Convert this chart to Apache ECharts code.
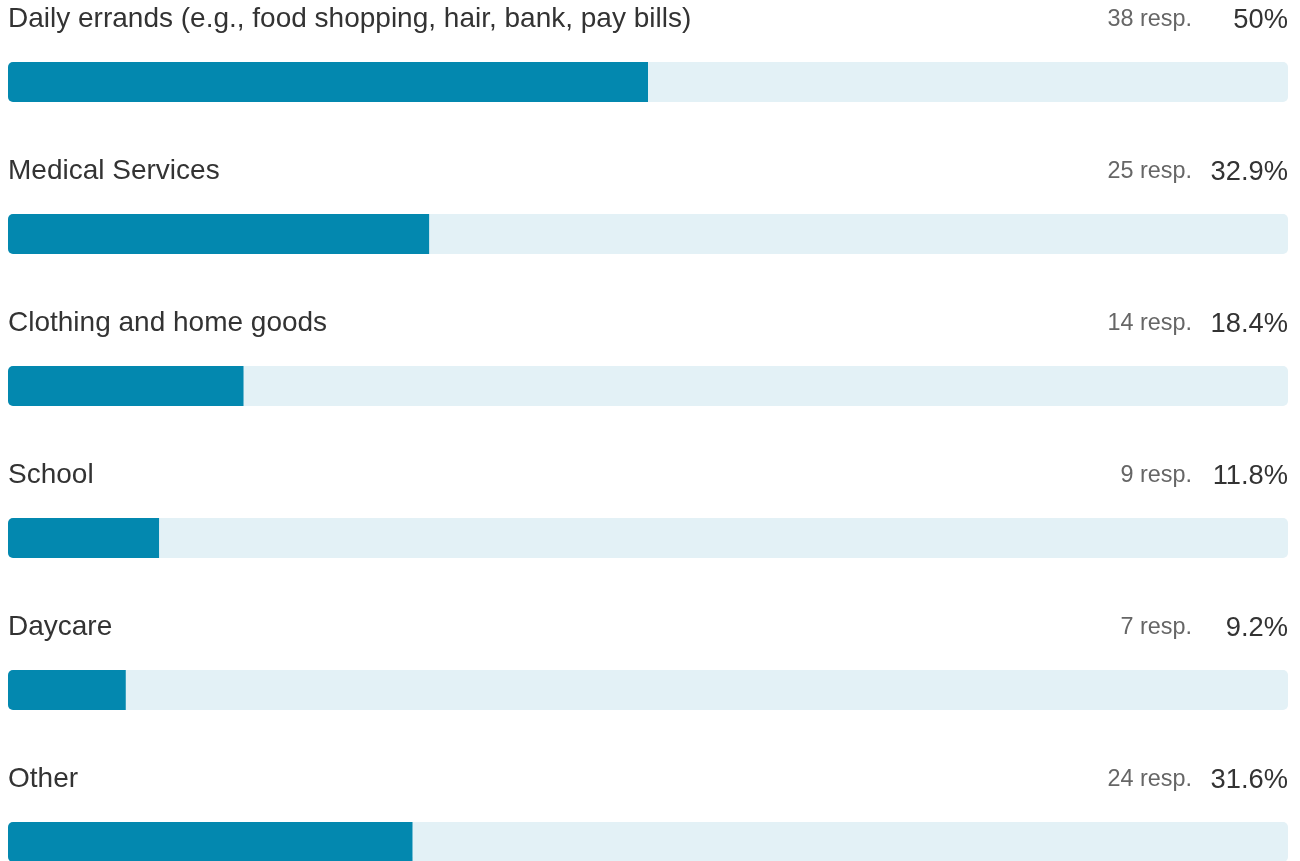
<!DOCTYPE html>
<html>
<head>
<meta charset="utf-8">
<script src="https://cdn.jsdelivr.net/npm/echarts@6/dist/echarts.min.js"></script>
<style>
  html, body { margin: 0; padding: 0; background: #fff; overflow: hidden; }
  /* taller than the window so the last bar sits where the reference cuts it */
  #chart { width: 1300px; height: 924px; }
</style>
</head>
<body>
<div id="chart"></div>
<script>
var categories = [
  'Daily errands (e.g., food shopping, hair, bank, pay bills)',
  'Medical Services',
  'Clothing and home goods',
  'School',
  'Daycare',
  'Other'
]
var responses = [38, 25, 14, 9, 7, 24]
var percents = [50, 32.9, 18.4, 11.8, 9.2, 31.6]
var trackValues = [100, 100, 100, 100, 100, 100]

var chart = echarts.init(document.getElementById('chart'))

chart.setOption({
  animation: false,
  textStyle: { fontFamily: 'Liberation Sans, Arial, sans-serif' },
  grid: { left: 8, right: 12, top: 6, bottom: 6 },
  xAxis: { type: 'value', min: 0, max: 100, show: false },
  yAxis: {
    type: 'category',
    data: categories,
    inverse: true,
    show: false
  },
  series: [
    {
      // light track behind, carries the right-hand texts
      type: 'bar',
      data: trackValues,
      barWidth: 40,
      barGap: '-100%',
      silent: true,
      z: 1,
      itemStyle: { color: '#e3f1f6', borderRadius: 5 },
      label: {
        show: true,
        position: ['100%', -42],
        align: 'right',
        verticalAlign: 'middle',
        formatter: function (p) {
          return '{r|' + responses[p.dataIndex] + ' resp.}{p|' + percents[p.dataIndex] + '%}'
        },
        rich: {
          r: { fontSize: 23.4, color: '#666666', fontFamily: 'Liberation Sans' },
          p: { fontSize: 27.3, color: '#333333', width: 96, align: 'right', fontFamily: 'Liberation Sans' }
        }
      }
    },
    {
      type: 'bar',
      data: percents,
      barWidth: 40,
      z: 2,
      itemStyle: { color: '#0388af', borderRadius: [5, 0, 0, 5] },
      label: {
        show: true,
        position: [0, -43],
        align: 'left',
        verticalAlign: 'middle',
        formatter: function (p) { return p.name },
        fontSize: 28,
        color: '#333333',
        fontFamily: 'Liberation Sans'
      }
    }
  ]
})
</script>
</body>
</html>
